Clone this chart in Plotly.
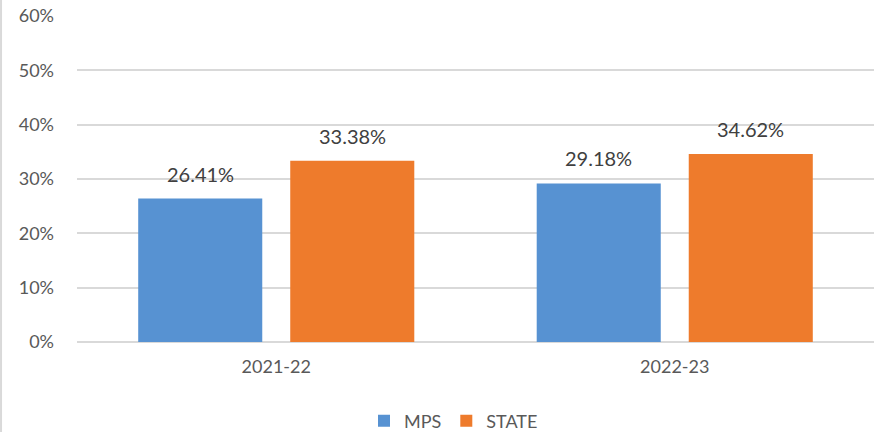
import plotly.graph_objects as go

categories = ["2021-22", "2022-23"]
mps_values = [0.2641, 0.2918]
state_values = [0.3338, 0.3462]
series_names = ["MPS", "STATE"]
y_tick_values = [0, 0.1, 0.2, 0.3, 0.4, 0.5, 0.6]
y_tick_labels = ["0%", "10%", "20%", "30%", "40%", "50%", "60%"]

FONT = "Lato, 'Open Sans', sans-serif"
BLUE = "#5792d2"
ORANGE = "#ee7b2c"

fig = go.Figure()
fig.add_trace(go.Bar(x=categories, y=mps_values, name=series_names[0],
                     marker=dict(color=BLUE, line=dict(width=0))))
fig.add_trace(go.Bar(x=categories, y=state_values, name=series_names[1],
                     marker=dict(color=ORANGE, line=dict(width=0))))

# data labels above bars
for vals, shift in ((mps_values, -76), (state_values, 76)):
    for c, v in zip(categories, vals):
        fig.add_annotation(x=c, y=v, xref="x", yref="y", text=f"{v*100:.2f}%",
                           showarrow=False, xshift=shift, yanchor="bottom", yshift=11,
                           font=dict(family=FONT, size=20, color="#404040"))

# left border line of the chart frame
fig.add_shape(type="line", xref="paper", yref="paper",
              x0=-77/797 + 0.0013, x1=-77/797 + 0.0013, y0=-90/326, y1=1 + 16/326,
              line=dict(color="#d9d9d9", width=2))

fig.update_layout(
    width=887, height=432,
    margin=dict(l=77, r=13, t=16, b=90, autoexpand=False),
    paper_bgcolor="white", plot_bgcolor="white",
    barmode="group", bargap=0.237, bargroupgap=0.184,
    font=dict(family=FONT, size=18, color="#595959"),
    showlegend=True,
    legend=dict(orientation="h", x=0.5 - 22/797, xanchor="center",
                yref="container", y=11/432, yanchor="middle",
                font=dict(family=FONT, size=18, color="#595959"),
                itemwidth=30, traceorder="normal"),
    xaxis=dict(showgrid=False, showline=False, zeroline=False, ticks="",
               ticklabelstandoff=12, automargin=False,
               tickfont=dict(family=FONT, size=18, color="#595959")),
    yaxis=dict(range=[0, 0.6], tickvals=y_tick_values, ticktext=y_tick_labels,
               showgrid=True, gridcolor="#d9d9d9", gridwidth=1.5,
               zeroline=True, zerolinecolor="#d9d9d9", zerolinewidth=1.5,
               showline=False, ticks="", ticklabelstandoff=22, automargin=False,
               tickfont=dict(family=FONT, size=18, color="#595959")),
)

fig.write_html("out.html")
